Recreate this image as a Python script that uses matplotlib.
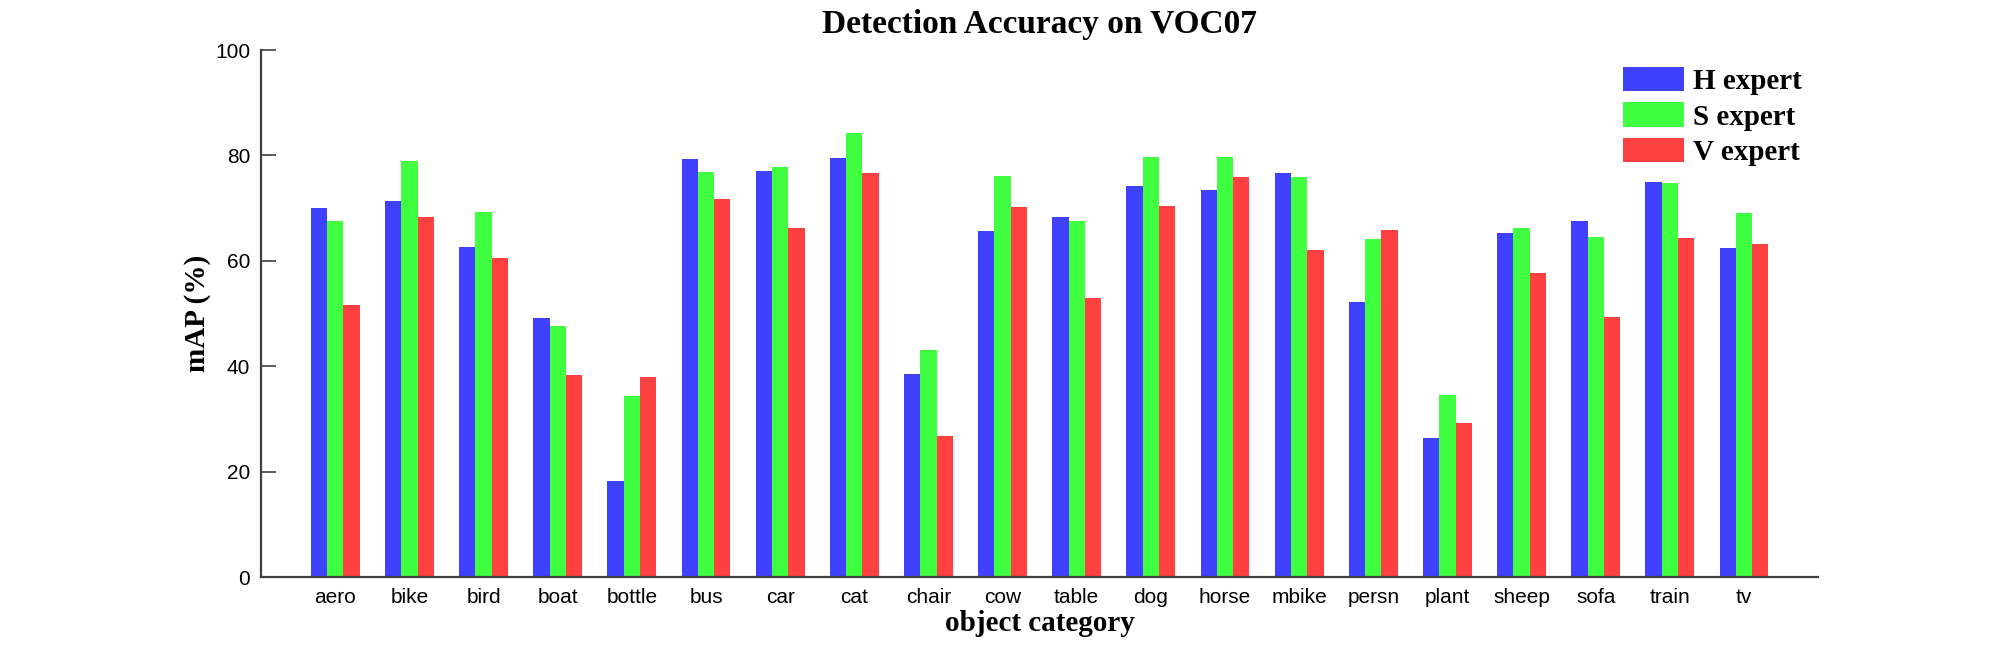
import matplotlib
matplotlib.use("Agg")
import matplotlib.pyplot as plt
import numpy as np

categories = ["aero", "bike", "bird", "boat", "bottle", "bus", "car", "cat", "chair", "cow",
              "table", "dog", "horse", "mbike", "persn", "plant", "sheep", "sofa", "train", "tv"]
h_expert = [70.1, 71.4, 62.6, 49.2, 18.2, 79.3, 77.1, 79.6, 38.5, 65.7,
            68.4, 74.2, 73.5, 76.7, 52.1, 26.4, 65.3, 67.6, 75.0, 62.5]
s_expert = [67.5, 79.0, 69.2, 47.7, 34.4, 76.9, 77.9, 84.3, 43.1, 76.1,
            67.5, 79.7, 79.7, 75.9, 64.2, 34.6, 66.2, 64.5, 74.7, 69.1]
v_expert = [51.7, 68.3, 60.6, 38.3, 38.0, 71.8, 66.2, 76.7, 26.7, 70.2,
            53.0, 70.4, 75.9, 62.1, 65.8, 29.3, 57.7, 49.4, 64.3, 63.1]
series_names = ["H expert", "S expert", "V expert"]
yticks = [0, 20, 40, 60, 80, 100]

colors = ["#4040FF", "#40FF40", "#FF4040"]

fig = plt.figure(figsize=(20.09, 6.5), dpi=100)
ax = fig.add_axes([0.130, 0.1123, 0.775, 0.8107])

x = np.arange(1, len(categories) + 1)
w = 0.22
for i, (vals, name, c) in enumerate(zip([h_expert, s_expert, v_expert], series_names, colors)):
    ax.bar(x + (i - 1) * w, vals, width=w, color=c, label=name, linewidth=0)

ax.set_xlim(0, 21)
ax.set_ylim(0, 100)
ax.set_yticks(yticks)
ax.set_xticks(x)
ax.set_xticklabels(categories)

axis_color = "#404040"
for s in ["top", "right"]:
    ax.spines[s].set_visible(False)
for s in ["left", "bottom"]:
    ax.spines[s].set_color(axis_color)
    ax.spines[s].set_linewidth(1.6)

ax.tick_params(axis="y", direction="in", length=11, width=1.2, color=axis_color,
               labelsize=15, pad=8)
ax.tick_params(axis="x", length=0, labelsize=15, pad=8)
for lab in ax.get_xticklabels() + ax.get_yticklabels():
    lab.set_fontfamily("Liberation Sans")

serif = "Liberation Serif"
ax.set_title("Detection Accuracy on VOC07", fontfamily=serif, fontweight="bold",
             fontsize=24, pad=12)
ax.set_xlabel("object category", fontfamily=serif, fontweight="bold", fontsize=21, labelpad=2)
ax.set_ylabel("mAP (%)", fontfamily=serif, fontweight="bold", fontsize=21, labelpad=3)

leg = ax.legend(loc="upper left", bbox_to_anchor=(0.8748, 0.968), frameon=False,
                prop={"family": serif, "weight": "bold", "size": 21},
                borderpad=0, borderaxespad=0, handlelength=2.1, handleheight=0.9,
                handletextpad=0.28, labelspacing=0.25)

fig.savefig("out.png", dpi=100, facecolor="white")
